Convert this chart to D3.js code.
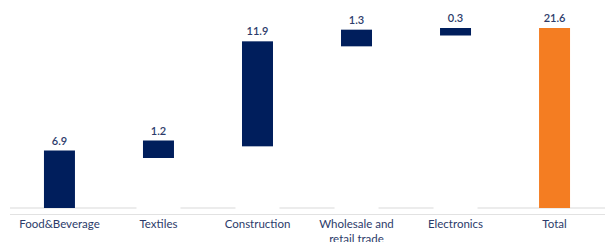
<!DOCTYPE html>
<html>
<head>
<meta charset="utf-8">
<script src="https://cdn.jsdelivr.net/npm/d3@7"></script>
<style>
  body { margin: 0; background: #fff; }
  svg { display: block; font-family: Lato, "Open Sans", sans-serif; }
</style>
</head>
<body>
<div id="chart"></div>
<script>
// categories + values as shown on the labels
const categories = ['Food&Beverage', 'Textiles', 'Construction', 'Wholesale and retail trade', 'Electronics', 'Total'];
const valueLabels = ['6.9', '1.2', '11.9', '1.3', '0.3', '21.6'];
// bar extents as drawn (bottom / top)
const barLow = [0, 6.0, 7.4, 19.4, 20.7, 0];
const barHigh = [6.9, 8.1, 20.0, 21.4, 21.6, 21.6];
const isTotal = [false, false, false, false, false, true];

const width = 605, height = 242;
const zeroY = 208;

const svg = d3.select('#chart').append('svg')
  .attr('width', width)
  .attr('height', height);

const y = d3.scaleLinear().domain([0, 21.6]).range([zeroY, 28]);

const x = d3.scaleBand().domain(categories).range([10, 604]).paddingInner(0.687).paddingOuter(0.343);

// zero gridline
svg.append('line')
  .attr('x1', 10).attr('x2', width)
  .attr('y1', y(0)).attr('y2', y(0))
  .attr('stroke', '#d9d9d9').attr('stroke-width', 1);

// invisible base bars (white) hide the gridline like in the original
svg.selectAll('.base')
  .data(categories.filter((d, i) => barLow[i] > 0))
  .enter().append('rect')
  .attr('class', 'base')
  .attr('x', d => x(d) + x.bandwidth() / 2 - 22)
  .attr('width', 44)
  .attr('y', y(0) - 2)
  .attr('height', 4)
  .attr('fill', '#fff');

svg.selectAll('.bar')
  .data(categories)
  .enter().append('rect')
  .attr('class', 'bar')
  .attr('x', d => x(d))
  .attr('width', x.bandwidth())
  .attr('y', (d, i) => y(barHigh[i]))
  .attr('height', (d, i) => y(barLow[i]) - y(barHigh[i]))
  .attr('fill', (d, i) => isTotal[i] ? '#f47d22' : '#001e5c');

svg.selectAll('.val')
  .data(categories)
  .enter().append('text')
  .attr('class', 'val')
  .attr('x', d => x(d) + x.bandwidth() / 2)
  .attr('y', (d, i) => y(barHigh[i]) - 6)
  .attr('text-anchor', 'middle')
  .attr('font-size', 11)
  .attr('font-weight', 600)
  .attr('fill', '#2c3b6a')
  .text((d, i) => valueLabels[i]);

// category axis line
svg.append('line')
  .attr('x1', 10).attr('x2', width)
  .attr('y1', 214.5).attr('y2', 214.5)
  .attr('stroke', '#e2e2e2').attr('stroke-width', 1);

const lab = svg.selectAll('.cat')
  .data(categories)
  .enter().append('text')
  .attr('class', 'cat')
  .attr('x', d => x(d) + x.bandwidth() / 2)
  .attr('y', 228)
  .attr('text-anchor', 'middle')
  .attr('font-size', 11.5)
  .attr('fill', '#2c3b6a');

lab.each(function(d) {
  const t = d3.select(this);
  if (d === 'Wholesale and retail trade') {
    t.append('tspan').attr('x', t.attr('x')).text('Wholesale and');
    t.append('tspan').attr('x', t.attr('x')).attr('dy', 15).text('retail trade');
  } else {
    t.text(d);
  }
});
</script>
</body>
</html>
